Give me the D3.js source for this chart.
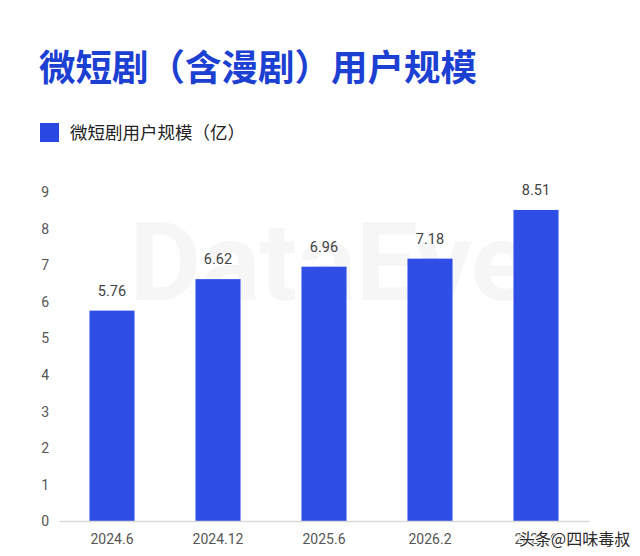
<!DOCTYPE html>
<html>
<head>
<meta charset="utf-8">
<script src="https://cdn.jsdelivr.net/npm/d3@7"></script>
<style>
  body { margin: 0; background: #fff; }
  svg { display: block; }
</style>
</head>
<body>
<svg id="drawing_region"></svg>
<script>
const categories = ["2024.6", "2024.12", "2025.6", "2026.2", "2026.6"];
const users = [5.76, 6.62, 6.96, 7.18, 8.51];
const yTicks = [0, 1, 2, 3, 4, 5, 6, 7, 8, 9];

const title = "微短剧（含漫剧）用户规模";
const legendLabel = "微短剧用户规模（亿）";

const width = 640, height = 556;
const margin = {top: 192, right: 51, bottom: 35, left: 59};
const barColor = "#2f4ee6";
const cjk = "'Noto Sans CJK SC', 'Noto Sans', sans-serif";
const latin = "Roboto, Arial, 'Liberation Sans', sans-serif";

const svg = d3.select("#drawing_region")
    .attr("width", width)
    .attr("height", height);

// faint background watermark
svg.append("text")
    .attr("x", 330).attr("y", 300)
    .attr("text-anchor", "middle")
    .attr("font-family", latin)
    .attr("font-weight", 700)
    .attr("font-size", 110)
    .attr("fill", "#f6f6f7")
    .text("DataEye");

svg.append("text")
    .attr("x", 39).attr("y", 81)
    .attr("font-family", cjk)
    .attr("font-weight", 700)
    .attr("font-size", 36.5)
    .attr("fill", "#1c40d2")
    .text(title);

svg.append("rect")
    .attr("x", 40).attr("y", 123)
    .attr("width", 19).attr("height", 19)
    .attr("fill", "#2848e2");

svg.append("text")
    .attr("x", 70).attr("y", 139)
    .attr("font-family", cjk)
    .attr("font-size", 17.5)
    .attr("fill", "#222")
    .text(legendLabel);

const innerW = width - margin.left - margin.right;
const innerH = height - margin.top - margin.bottom;

const chart = svg.append("g")
    .attr("transform", `translate(${margin.left}, ${margin.top})`);

const xscale = d3.scaleBand()
    .domain(categories)
    .range([0, innerW])
    .paddingInner(0.575)
    .paddingOuter(0.2875);

const yscale = d3.scaleLinear()
    .domain([0, 9])
    .range([innerH + 0.5, 0]);

// y axis labels only
const yaxis = d3.axisLeft(yscale)
    .tickValues(yTicks)
    .tickSize(0)
    .tickPadding(10);

chart.append("g")
    .call(yaxis)
    .call(g => g.select(".domain").remove())
    .call(g => g.selectAll("text")
        .attr("font-family", latin)
        .attr("font-size", 14)
        .attr("fill", "#555"));

chart.selectAll("rect.bar")
    .data(users)
    .enter()
    .append("rect")
    .attr("class", "bar")
    .attr("x", (d, i) => xscale(categories[i]))
    .attr("y", d => yscale(d))
    .attr("width", xscale.bandwidth())
    .attr("height", d => yscale(0) - yscale(d))
    .attr("fill", barColor);

chart.selectAll("text.value")
    .data(users)
    .enter()
    .append("text")
    .attr("class", "value")
    .attr("x", (d, i) => xscale(categories[i]) + xscale.bandwidth() / 2)
    .attr("y", d => yscale(d) - 15)
    .attr("text-anchor", "middle")
    .attr("font-family", latin)
    .attr("font-size", 14.5)
    .attr("fill", "#444")
    .text(d => d.toFixed(2));

const xaxis = d3.axisBottom(xscale)
    .tickSize(0)
    .tickPadding(13);

chart.append("g")
    .attr("transform", `translate(0, ${innerH})`)
    .call(xaxis)
    .call(g => g.select(".domain")
        .attr("stroke", "#d9d9d9")
        .attr("stroke-width", 1.5))
    .call(g => g.selectAll("text")
        .attr("font-family", latin)
        .attr("font-size", 14)
        .attr("fill", "#555"));

// source watermark bottom right
svg.append("text")
    .attr("x", 519).attr("y", 545)
    .attr("font-family", cjk)
    .attr("font-size", 16)
    .attr("fill", "#2a2a2a")
    .attr("stroke", "#fff")
    .attr("stroke-width", 2)
    .attr("paint-order", "stroke")
    .text("头条@四味毒叔");
</script>
</body>
</html>
